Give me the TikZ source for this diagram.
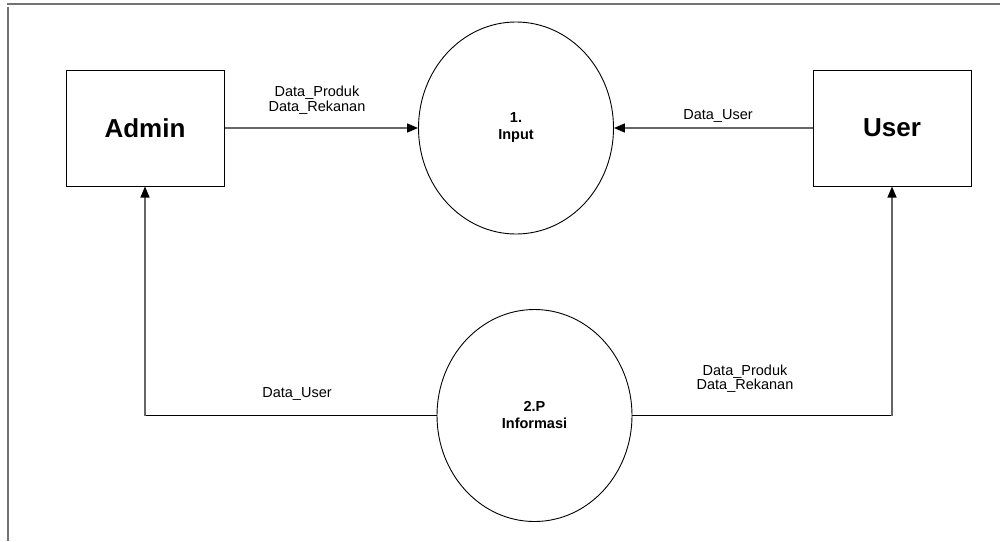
\documentclass[tikz,border=0pt]{standalone}
\usepackage{fontspec}
\setmainfont{Liberation Sans}
\usetikzlibrary{shapes.geometric,arrows.meta}
\begin{document}
\begin{tikzpicture}[x=1pt,y=-1pt,
  entity/.style={draw=black,line width=1pt,minimum width=158pt,minimum height=116pt,inner sep=0pt,
    font=\fontsize{26}{30}\selectfont\bfseries},
  process/.style={draw=black,line width=0.9pt,ellipse,minimum width=195pt,minimum height=212pt,inner sep=0pt,
    font=\fontsize{14.5}{17}\selectfont\bfseries,align=center},
  flow/.style={draw=black!60,line width=1.3pt,-{Triangle[length=11pt,width=9pt,color=black]}},
  plainline/.style={draw=black,line width=1pt},
  flowlabel/.style={font=\fontsize{14.5}{14.5}\selectfont,align=center,inner sep=0pt},
  frame/.style={draw=black!55,line width=2pt}]
\useasboundingbox (0,0) rectangle (1000,541);
\fill[white] (0,0) rectangle (1000,541);
\draw[frame] (7,4) -- (1000,4);
\draw[frame] (8,7) -- (8,541);

\node[entity] (admin) at (145,128) {Admin};
\node[entity] (user) at (892,128) {User};
\node[process] (p1) at (516,128) {1.\\Input};
\node[process] (p2) at (534.5,415.5) {2.P\\Informasi};

\draw[flow] (admin.east) -- (p1.west);
\draw[flow] (user.west) -- (p1.east);
\draw[plainline] (p2.west) -- (145,415.5) coordinate (bl);
\draw[flow] (bl) -- (admin.south);
\draw[plainline] (p2.east) -- (892,415.5) coordinate (br);
\draw[flow] (br) -- (user.south);

\node[flowlabel] (l1) at (317,100) {Data\_Produk\\Data\_Rekanan};
\node[flowlabel] (l2) at (718,116) {Data\_User};
\node[flowlabel] (l3) at (297,393.5) {Data\_User};
\node[flowlabel] (l4) at (745,378.5) {Data\_Produk\\Data\_Rekanan};
\end{tikzpicture}
\end{document}
